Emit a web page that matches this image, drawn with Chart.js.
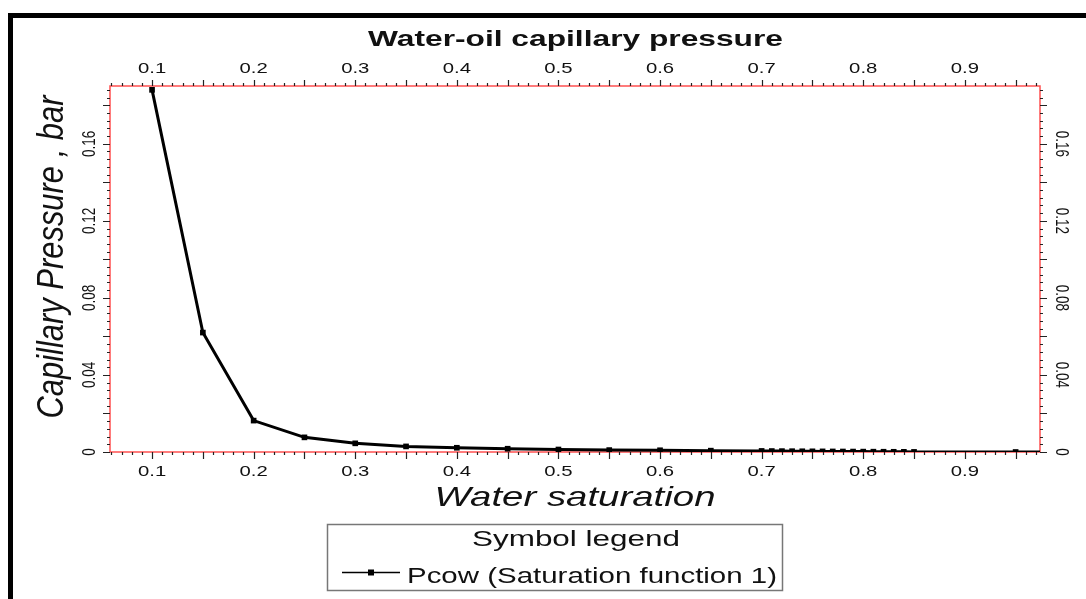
<!DOCTYPE html>
<html>
<head>
<meta charset="utf-8">
<title>Water-oil capillary pressure</title>
<script src="https://cdn.jsdelivr.net/npm/chart.js@4.4.1/dist/chart.umd.min.js"></script>
<style>
  html, body { margin: 0; padding: 0; background: #fff; }
  #chart { display: block; }
</style>
</head>
<body>
<canvas id="chart" width="1086" height="599"></canvas>
<script>
// water saturation (x) and oil-water capillary pressure in bar (y)
const saturation = [
  0.1, 0.15, 0.2, 0.25, 0.3, 0.35, 0.4, 0.45, 0.5, 0.55, 0.6, 0.65,
  0.7, 0.71, 0.72, 0.73, 0.74, 0.75, 0.76, 0.77, 0.78, 0.79, 0.8,
  0.81, 0.82, 0.83, 0.84, 0.85, 0.95, 1.0,
];
const pcow = [
  0.188, 0.062, 0.0163, 0.0076, 0.0045, 0.0029, 0.0022, 0.0017, 0.0013, 0.001, 0.0009, 0.0007,
  0.00055, 0.0005, 0.00046, 0.00042, 0.00038, 0.00035, 0.00032, 0.00029, 0.00026, 0.00023, 0.0002,
  0.00017, 0.00014, 0.00011, 0.00008, 0.00005, 0, 0,
];

// axis ticks
const xTickLabels = ["0.1", "0.2", "0.3", "0.4", "0.5", "0.6", "0.7", "0.8", "0.9"];
const yTickLabels = ["0", "0.04", "0.08", "0.12", "0.16"];

const xMin = 0.0586;
const xMax = 0.974;
const yMin = 0;
const yMax = 0.19;

const INK = "#111";

// draws a text with optional rotation, stretched along / across its baseline
const drawText = (ctx, text, x, y, opts) => {
  const { font, angle = 0, width, stretch = 1, thick = 1, align = "center" } = opts;
  ctx.save();
  ctx.font = font;
  ctx.fillStyle = INK;
  ctx.translate(x, y);
  ctx.rotate(angle);
  const w = ctx.measureText(text).width;
  const sx = width ? width / w : stretch;
  ctx.scale(sx, thick);
  ctx.textAlign = align;
  ctx.textBaseline = "alphabetic";
  ctx.fillText(text, 0, 0);
  ctx.restore();
};

// red plot frame + tick marks on all four sides
const frameAndTicks = {
  id: "frameAndTicks",
  beforeDatasetsDraw(chart) {
    const { ctx, chartArea: a, scales } = chart;
    ctx.save();
    ctx.strokeStyle = "#ff5050";
    ctx.lineWidth = 1.5;
    ctx.strokeRect(a.left, a.top, a.right - a.left, a.bottom - a.top);

    ctx.strokeStyle = "#222";
    ctx.lineWidth = 1.2;
    ctx.beginPath();
    // x ticks every 0.01, longer every 0.05
    for (let i = 6; i <= 97; i++) {
      const px = Math.round(scales.x.getPixelForValue(i / 100)) + 0.5;
      const len = i % 5 === 0 ? 7 : 3;
      ctx.moveTo(px, a.bottom);
      ctx.lineTo(px, a.bottom + len);
      ctx.moveTo(px, a.top);
      ctx.lineTo(px, a.top - (i % 5 === 0 ? 6 : 3));
    }
    // y ticks every 0.004, longer every 0.02
    for (let j = 0; j <= 47; j++) {
      const py = Math.round(scales.y.getPixelForValue(j * 0.004)) + 0.5;
      const len = j % 5 === 0 ? 7 : 3;
      ctx.moveTo(a.left, py);
      ctx.lineTo(a.left - len, py);
      ctx.moveTo(a.right, py);
      ctx.lineTo(a.right + len, py);
    }
    ctx.stroke();
    ctx.restore();
  },
  afterDraw(chart) {
    const { ctx, scales } = chart;

    // outer black frame (top and left edges)
    ctx.save();
    ctx.fillStyle = "#000";
    ctx.fillRect(8, 13, 1086 - 8, 5);
    ctx.fillRect(8, 13, 5, 599 - 13);
    ctx.restore();

    // title
    drawText(ctx, "Water-oil capillary pressure", 575.5, 46, {
      font: "bold 22px 'Liberation Sans', Arial, sans-serif",
      width: 415,
    });

    // x tick labels, top and bottom
    xTickLabels.forEach((t) => {
      const px = scales.x.getPixelForValue(Number(t));
      const font = "14px 'Liberation Sans', Arial, sans-serif";
      drawText(ctx, t, px, 73, { font, stretch: 1.45 });
      drawText(ctx, t, px, 476, { font, stretch: 1.45 });
    });

    // y tick labels, rotated on both sides
    yTickLabels.forEach((t) => {
      const py = scales.y.getPixelForValue(Number(t));
      const font = "13.5px 'Liberation Sans', Arial, sans-serif";
      drawText(ctx, t, 95, py, { font, angle: -Math.PI / 2, thick: 1.35 });
      drawText(ctx, t, 1056, py, { font, angle: Math.PI / 2, thick: 1.35 });
    });

    // axis titles
    drawText(ctx, "Water saturation", 575, 506, {
      font: "italic 28px 'Liberation Sans', Arial, sans-serif",
      width: 281,
    });
    drawText(ctx, "Capillary Pressure , bar", 63, 257, {
      font: "italic 28px 'Liberation Sans', Arial, sans-serif",
      angle: -Math.PI / 2,
      width: 323,
      thick: 1.3,
    });

    // legend box
    ctx.save();
    ctx.strokeStyle = "#777";
    ctx.lineWidth = 1.5;
    ctx.strokeRect(327.5, 524.5, 455, 66);
    ctx.strokeStyle = "#000";
    ctx.lineWidth = 1.5;
    ctx.beginPath();
    ctx.moveTo(342, 572.5);
    ctx.lineTo(400, 572.5);
    ctx.stroke();
    ctx.fillStyle = "#000";
    ctx.fillRect(368, 569.5, 6, 6);
    ctx.restore();

    drawText(ctx, "Symbol legend", 576, 546, {
      font: "22px 'Liberation Sans', Arial, sans-serif",
      width: 208,
    });
    drawText(ctx, "Pcow (Saturation function 1)", 407, 583, {
      font: "22px 'Liberation Sans', Arial, sans-serif",
      width: 370,
      align: "left",
    });
  },
};

const hiddenAxis = (position, size, min, max) => ({
  type: "linear",
  position,
  min,
  max,
  ticks: { display: false },
  grid: { display: false },
  border: { display: false },
  afterFit: (scale) => {
    if (scale.isHorizontal()) scale.height = size;
    else scale.width = size;
  },
});

const points = saturation.map((s, i) => ({ x: s, y: pcow[i] }));

const ctx = document.querySelector("#chart").getContext("2d");
new Chart(ctx, {
  type: "scatter",
  data: {
    datasets: [
      {
        label: "Pcow (Saturation function 1)",
        data: points,
        showLine: true,
        borderColor: "#000",
        borderWidth: 3,
        pointStyle: "rect",
        pointRadius: 4,
        pointBackgroundColor: "#000",
        pointBorderColor: "#000",
        pointBorderWidth: 0,
        tension: 0,
      },
    ],
  },
  options: {
    responsive: false,
    animation: false,
    devicePixelRatio: 1,
    layout: { padding: 0 },
    plugins: {
      legend: { display: false },
      tooltip: { enabled: false },
    },
    scales: {
      x: hiddenAxis("bottom", 147, xMin, xMax),
      x2: hiddenAxis("top", 86, xMin, xMax),
      y: hiddenAxis("left", 110, yMin, yMax),
      y2: hiddenAxis("right", 46, yMin, yMax),
    },
  },
  plugins: [frameAndTicks],
});
</script>
</body>
</html>
